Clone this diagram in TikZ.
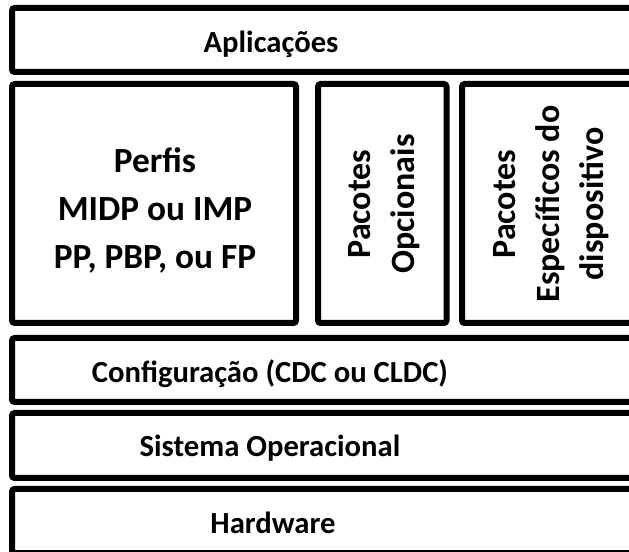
\documentclass[tikz,border=0pt]{standalone}
\usepackage{fontspec}
\setmainfont{Carlito}

\begin{document}
\begin{tikzpicture}[x=0.75pt, y=-0.75pt,
  layer/.style={draw, line width=4.5pt, rounded corners=2pt},
  every node/.style={inner sep=0pt, font=\bfseries\fontsize{23}{28}\selectfont},
  big/.style={align=center, font=\bfseries\fontsize{26.5}{36}\selectfont},
  vert/.style={align=center, rotate=90, font=\bfseries\fontsize{25.5}{33}\selectfont}]
  \useasboundingbox (0,0) rectangle (629,552);
  \clip (0,0) rectangle (629,552);
  \draw[layer] (12,8) rectangle (640,72);
  \draw[layer] (12,84) rectangle (296,323);
  \draw[layer] (318,84) rectangle (446.5,323);
  \draw[layer] (462,84) rectangle (640,323);
  \draw[layer] (12,338) rectangle (640,402);
  \draw[layer] (12,413) rectangle (640,478);
  \draw[layer] (12,489) rectangle (640,553);
  \node[anchor=base] (apl) at (271,53) {Aplicações};
  \node[big] (perfis) at (155,210) {Perfis\\MIDP ou IMP\\PP, PBP, ou FP};
  \node[vert] (opc) at (384,204) {Pacotes\\Opcionais};
  \node[vert] (esp) at (551,204) {Pacotes\\Específicos do\\dispositivo};
  \node[anchor=base] (conf) at (270,383) {Configuração (CDC ou CLDC)};
  \node[anchor=base] (so) at (270,457) {Sistema Operacional};
  \node[anchor=base] (hw) at (273,533) {Hardware};
\end{tikzpicture}
\end{document}
